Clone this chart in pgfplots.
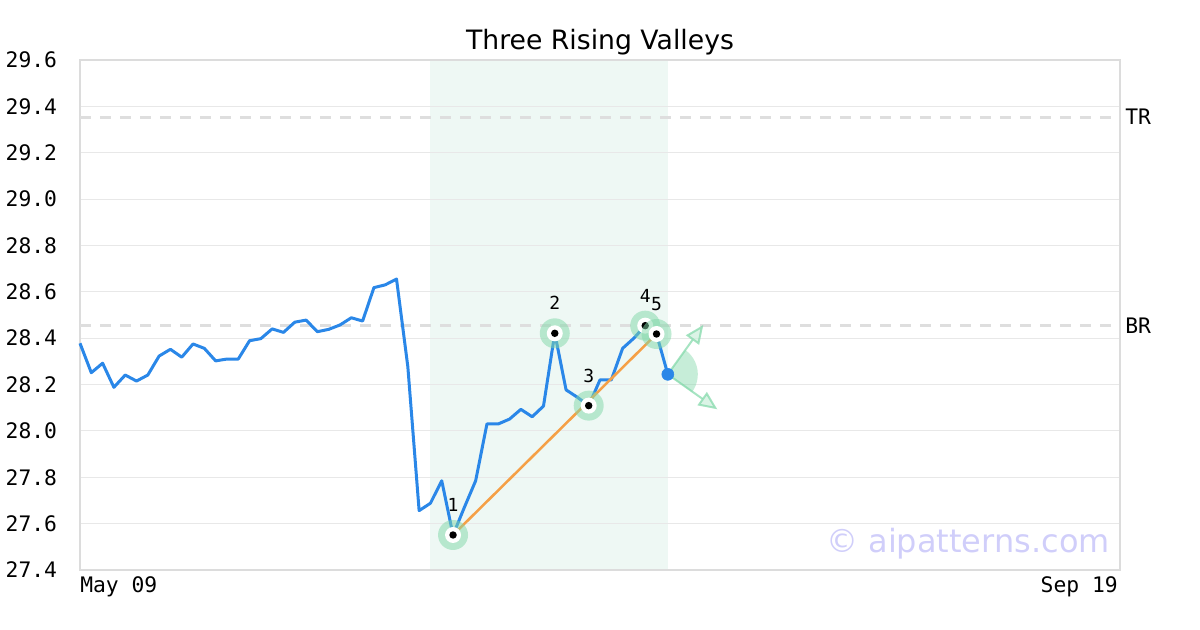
\documentclass[border=0pt]{standalone}
\usepackage{fontspec}
\setmainfont{DejaVu Sans}
\setmonofont{DejaVu Sans Mono}
\usepackage{pgfplots}
\pgfplotsset{compat=1.18}
\usetikzlibrary{arrows.meta}

\definecolor{linec}{RGB}{42,135,232}
\definecolor{orangec}{RGB}{245,160,70}
\definecolor{glowc}{RGB}{128,216,168}
\definecolor{shadec}{RGB}{238,248,244}
\definecolor{framec}{RGB}{220,220,220}
\definecolor{gridc}{RGB}{232,232,232}
\definecolor{refc}{RGB}{222,222,222}
\definecolor{wmc}{RGB}{208,206,250}
\definecolor{markwhite}{RGB}{255,255,255}

\pgfdeclareplotmark{glow}{%
  \pgfsetfillcolor{glowc}\pgfsetfillopacity{0.5}%
  \pgfpathcircle{\pgfpointorigin}{11.25pt}\pgfusepath{fill}%
  \pgfsetfillopacity{1}\pgfsetfillcolor{markwhite}%
  \pgfpathcircle{\pgfpointorigin}{6pt}\pgfusepath{fill}%
  \pgfsetfillcolor{black}%
  \pgfpathcircle{\pgfpointorigin}{2.8pt}\pgfusepath{fill}%
}

\newcommand{\tickfont}{\ttfamily\fontsize{16pt}{19pt}\selectfont}

\begin{document}
\begin{tikzpicture}
\begin{axis}[
    set layers,
    scale only axis,
    width=780pt, height=382.5pt,
    xmin=0, xmax=92,
    ymin=27.4, ymax=29.6,
    xtick=\empty,
    ytick={27.4,27.6,27.8,28.0,28.2,28.4,28.6,28.8,29.0,29.2,29.4,29.6},
    yticklabel style={font=\tickfont, anchor=east, inner sep=0pt, xshift=-17pt,
      /pgf/number format/.cd, fixed, fixed zerofill, precision=1, assume math mode=true},
    major tick length=0pt,
    ymajorgrids,
    grid style={draw=gridc, line width=0.75pt},
    axis line style={draw=framec, line width=1.5pt},
    title={Three Rising Valleys},
    title style={font=\fontsize{20pt}{24pt}\selectfont, at={(0.5,1)}, anchor=base, yshift=1.5pt, inner sep=0pt},
    clip=false,
]
% highlighted pattern span
\addplot[on layer=axis background, draw=none, fill=shadec] coordinates {(31,27.4) (31,29.6) (52,29.6) (52,27.4)};

% reference levels
\addplot[refc, line width=2.25pt, dash pattern=on 8.25pt off 6.75pt] coordinates {(0,29.354) (92,29.354)};
\addplot[refc, line width=2.25pt, dash pattern=on 8.25pt off 6.75pt] coordinates {(0,28.453) (92,28.453)};

% price
\addplot[linec, line width=2.25pt, line join=round] coordinates {
(0,28.378) (1,28.251) (2,28.292) (3,28.188) (4,28.241) (5,28.215) (6,28.241)
(7,28.323) (8,28.352) (9,28.318) (10,28.375) (11,28.356) (12,28.302) (13,28.310)
(14,28.310) (15,28.389) (16,28.398) (17,28.440) (18,28.425) (19,28.469) (20,28.478)
(21,28.428) (22,28.438) (23,28.457) (24,28.488) (25,28.474) (26,28.618) (27,28.630)
(28,28.655) (29,28.277) (30,27.656) (31,27.688) (32,27.785) (33,27.551) (34,27.670)
(35,27.785) (36,28.030) (37,28.030) (38,28.051) (39,28.093) (40,28.061) (41,28.107)
(42,28.421) (43,28.177) (44,28.145) (45,28.109) (46,28.220) (47,28.220) (48,28.356)
(49,28.400) (50,28.454) (51,28.418) (52,28.244)
};

% trend line through the valleys
\addplot[orangec, line width=1.9pt] coordinates {(33,27.551) (51,28.418)};

% breakout direction fan
\fill[glowc, opacity=0.45] (axis cs:52,28.244) -- ++(-36.3:22.5pt) arc[start angle=-36.3, end angle=54.5, radius=22.5pt] -- cycle;
\addplot[glowc, opacity=0.7, line width=1.5pt, -{Triangle[length=14pt, width=12pt, open, fill=glowc!40]}] coordinates {(52,28.244) (55.14,28.457)};
\addplot[glowc, opacity=0.7, line width=1.5pt, -{Triangle[length=14pt, width=12pt, open, fill=glowc!40]}] coordinates {(52,28.244) (56.38,28.093)};

% pivot points
\addplot[only marks, mark=glow, nodes near coords, point meta=explicit symbolic,
  every node near coord/.append style={anchor=center, yshift=22.5pt, inner sep=0pt, font=\ttfamily\fontsize{13.5pt}{16pt}\selectfont, text=black}]
  coordinates {(33,27.551)[1] (42,28.421)[2] (45,28.109)[3] (50,28.454)[4] (51,28.418)[5]};

\addplot[only marks, mark=*, mark size=4.5pt, color=linec] coordinates {(52,28.244)};

% labels
\node[anchor=west, inner sep=0pt, xshift=3.75pt, font=\tickfont] at (axis cs:92,29.354) {TR};
\node[anchor=west, inner sep=0pt, xshift=3.75pt, font=\tickfont] at (axis cs:92,28.453) {BR};
\node[anchor=base west, inner sep=0pt, yshift=-17.25pt, font=\tickfont] at (rel axis cs:0,0) {May 09};
\node[anchor=base east, inner sep=0pt, xshift=-1.5pt, yshift=-17.25pt, font=\tickfont] at (rel axis cs:1,0) {Sep 19};
\node[anchor=base east, inner sep=0pt, xshift=-7.5pt, yshift=12.75pt, text=wmc, font=\fontsize{24pt}{28pt}\selectfont] at (rel axis cs:1,0) {© aipatterns.com};
\end{axis}
\path (-60pt,-45pt) rectangle (840pt,427.5pt);
\end{tikzpicture}
\end{document}
